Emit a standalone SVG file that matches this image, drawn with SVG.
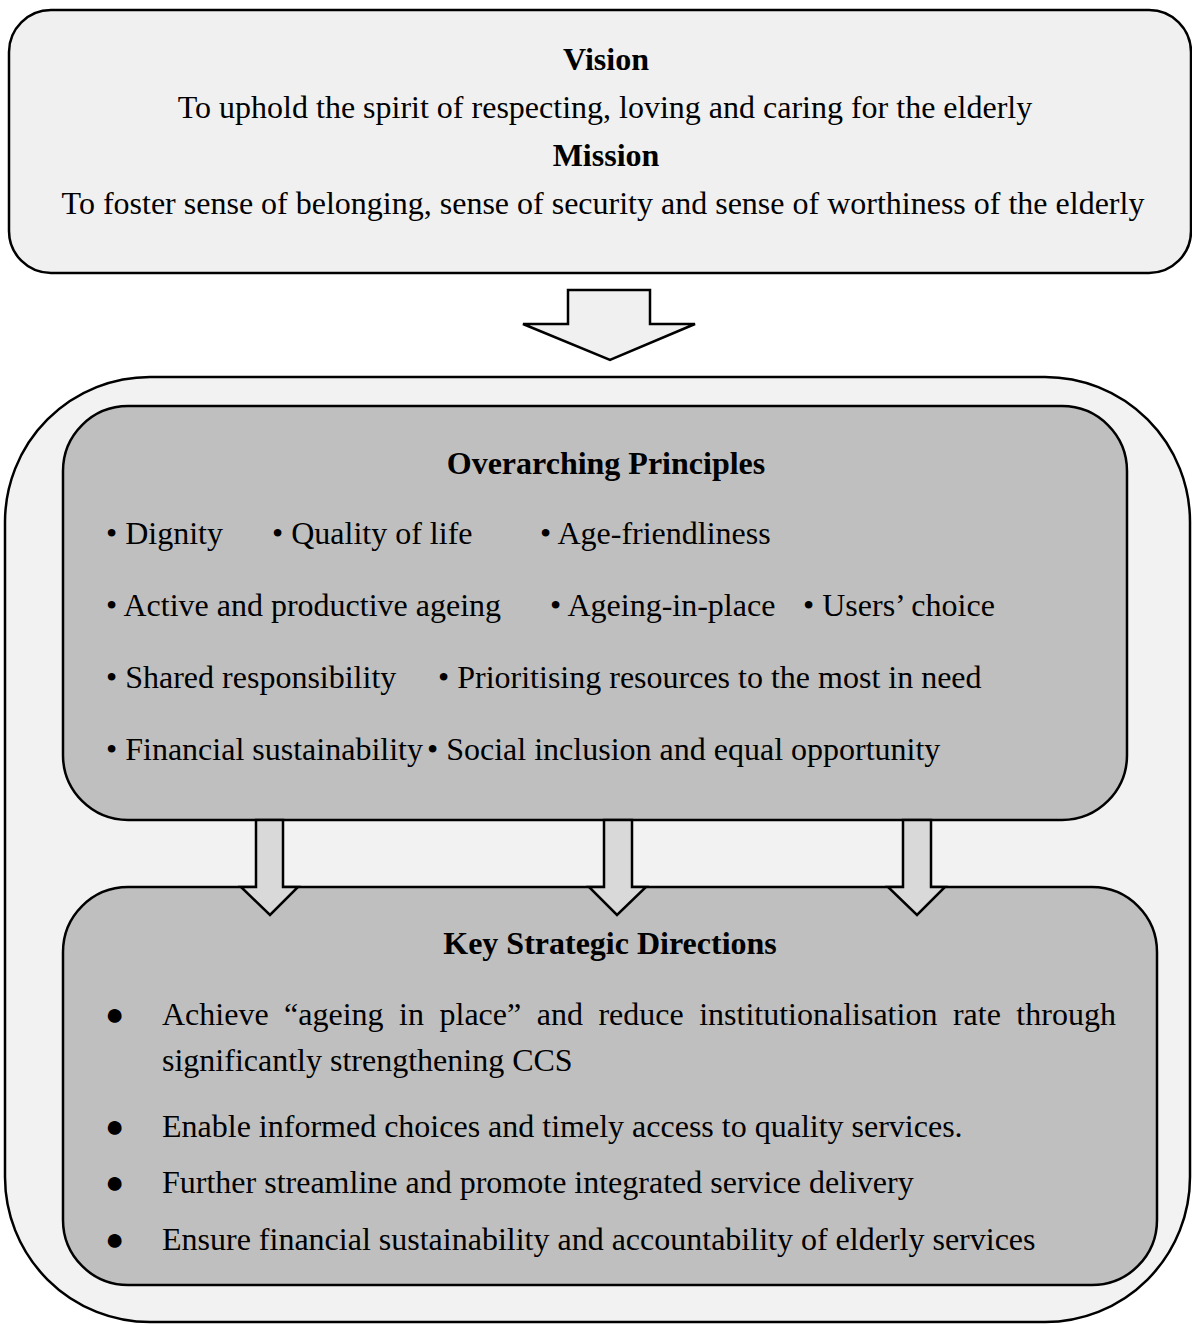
<svg xmlns="http://www.w3.org/2000/svg" width="1192" height="1324" viewBox="0 0 1192 1324">
<style>
.box{stroke:#000;stroke-width:2.5}
.t{font-family:"Liberation Serif","Times New Roman",serif;font-size:32px;fill:#000}
.b{font-weight:bold}
.c{text-anchor:middle}
.arr{fill:#d9d9d9;stroke:#000;stroke-width:2.5;stroke-linejoin:miter}
</style>
<rect width="1192" height="1324" fill="#fff"/>
<g id="vision-mission">
<rect class="box" x="9" y="10" width="1182" height="263" rx="42" fill="#f0f0f0"/>
<text class="t b c" x="606" y="70">Vision</text>
<text class="t c" x="605" y="118">To uphold the spirit of respecting, loving and caring for the elderly</text>
<text class="t b c" x="606" y="166">Mission</text>
<text class="t c" x="603" y="214">To foster sense of belonging, sense of security and sense of worthiness of the elderly</text>
</g>
<g id="connectors">
<polygon class="arr" style="fill:#f0f0f0" points="568,290 650,290 650,324 695,324 610,360 523,324 568,324"/>
</g>
<g id="outer">
<rect class="box" x="5" y="377" width="1185" height="945" rx="145" fill="#f2f2f2"/>
</g>
<g id="principles">
<rect class="box" x="63" y="406" width="1064" height="414" rx="65" fill="#bfbfbf"/>
<text class="t b c" x="606" y="474">Overarching Principles</text>
<text class="t" x="106" y="544">• Dignity</text>
<text class="t" x="272" y="544">• Quality of life</text>
<text class="t" x="540" y="544">• Age-friendliness</text>
<text class="t" x="106" y="616">• Active and productive ageing</text>
<text class="t" x="550" y="616">• Ageing-in-place</text>
<text class="t" x="803" y="616">• Users’ choice</text>
<text class="t" x="106" y="688">• Shared responsibility</text>
<text class="t" x="438" y="688">• Prioritising resources to the most in need</text>
<text class="t" x="106" y="760">• Financial sustainability</text>
<text class="t" x="427" y="760">• Social inclusion and equal opportunity</text>
</g>
<g id="directions">
<rect class="box" x="63" y="887" width="1094" height="398" rx="65" fill="#bfbfbf"/>
<text class="t b c" x="610" y="954">Key Strategic Directions</text>
<text class="t" x="105" y="1025">●</text>
<text class="t" x="162" y="1025" word-spacing="7.5">Achieve “ageing in place” and reduce institutionalisation rate through</text>
<text class="t" x="162" y="1071">significantly strengthening CCS</text>
<text class="t" x="105" y="1137">●</text>
<text class="t" x="162" y="1137">Enable informed choices and timely access to quality services.</text>
<text class="t" x="105" y="1193">●</text>
<text class="t" x="162" y="1193">Further streamline and promote integrated service delivery</text>
<text class="t" x="105" y="1250">●</text>
<text class="t" x="162" y="1250">Ensure financial sustainability and accountability of elderly services</text>
</g>
<g id="connectors-2">
<path class="arr" d="M256,820 V887 H241 L270,915 L298,887 H283 V820 Z"/>
<path class="arr" d="M604,820 V887 H589 L617,915 L646,887 H632 V820 Z"/>
<path class="arr" d="M903,820 V887 H888 L917,915 L945,887 H931 V820 Z"/>
</g>
</svg>
